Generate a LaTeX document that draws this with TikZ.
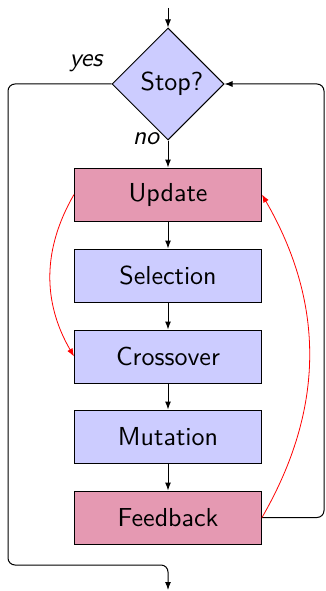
\documentclass[tikz,border=0pt]{standalone}
\usepackage{graphicx}
\usetikzlibrary{shapes.geometric,arrows.meta}
% labels are set at 10pt and enlarged, keeping the 10pt design widths
\newcommand{\bigtxt}[1]{\scalebox{2.6}{#1}}
\begin{document}
\begin{tikzpicture}[x=1pt,y=-1pt,
  every node/.style={font=\sffamily\fontsize{10}{12}\selectfont},
  stepbox/.style={rectangle,draw=black,line width=1pt,minimum width=187pt,minimum height=53pt,inner sep=0pt},
  plain/.style={stepbox,fill=blue!20},
  hot/.style={stepbox,fill=purple!40},
  decide/.style={diamond,draw=black,line width=1pt,fill=blue!20,minimum width=112pt,minimum height=112pt,inner sep=0pt},
  flow/.style={line width=1pt,-{Latex[length=8pt,width=6pt]}},
  link/.style={line width=1pt,rounded corners=7pt},
  jump/.style={line width=0.8pt,red,-{Latex[length=8pt,width=6pt]},bend right=30},
  lab/.style={font=\sffamily\itshape\fontsize{10}{12}\selectfont}]
\useasboundingbox (0,0) rectangle (325,591);

% decision and process steps
\node[decide] (stop) at (168,84) {\bigtxt{\hspace*{3pt}Stop?}};
\node[hot]   (update)    at (168,194.5) {\bigtxt{Update}};
\node[plain] (selection) at (168,275.5) {\bigtxt{Selection}};
\node[plain] (crossover) at (168,356.5) {\bigtxt{Crossover}};
\node[plain] (mutation)  at (168,436.5) {\bigtxt{Mutation}};
\node[hot]   (feedback)  at (168,517.5) {\bigtxt{Feedback}};

% free ends and bends of the loop lines
\coordinate (in)  at (168,8);
\coordinate (out) at (168,590);
\coordinate (ytop) at (8,84);
\coordinate (ybot) at (8,565);
\coordinate (ymid) at (168,565);
\coordinate (rbot) at (324,517.5);
\coordinate (rtop) at (324,84);

% main flow
\draw[flow] (in) -- (stop);
\draw[flow] (stop) -- (update);
\draw[flow] (update) -- (selection);
\draw[flow] (selection) -- (crossover);
\draw[flow] (crossover) -- (mutation);
\draw[flow] (mutation) -- (feedback);

% exit branch
\draw[link,-{Latex[length=8pt,width=6pt]}] (stop.west) -- (ytop) -- (ybot) -- (ymid) -- (out);
% loop back
\draw[link,-{Latex[length=8pt,width=6pt]}] (feedback.east) -- (rbot) -- (rtop) -- (stop.east);

% shortcut arcs
\draw[jump] (update.west) to (crossover.west);
\draw[jump] (feedback.east) to (update.east);

% branch labels
\node[lab] (yes) at (86,63) {\bigtxt{yes}};
\node[lab] (no)  at (146,139) {\bigtxt{no}};
\end{tikzpicture}
\end{document}
